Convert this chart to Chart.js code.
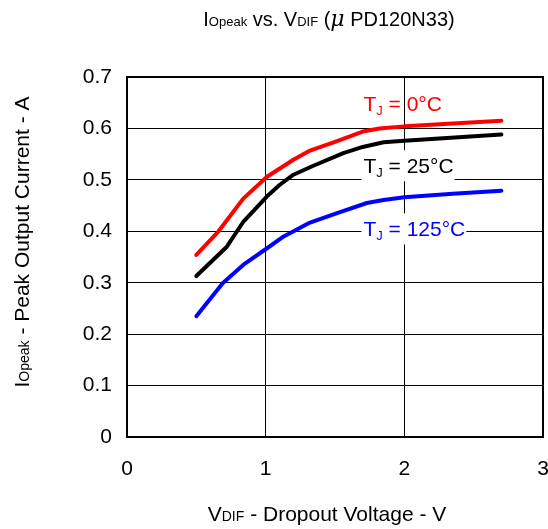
<!DOCTYPE html>
<html lang="en">
<head>
<meta charset="UTF-8">
<title>IOpeak vs. VDIF</title>
<script src="https://cdn.jsdelivr.net/npm/chart.js"></script>
<style>
    html, body { margin: 0; padding: 0; background: #fff; }
    #wrap { width: 548px; height: 529px; }
</style>
</head>
<body>
<div id="wrap"><canvas id="chart" width="548" height="529"></canvas></div>
<script>
    // data
    const xTicks = [0, 1, 2, 3];
    const yTicks = [0, 0.1, 0.2, 0.3, 0.4, 0.5, 0.6, 0.7];

    const vdif0 = [0.5, 0.66, 0.84, 1.01, 1.2, 1.32, 1.51, 1.70, 1.82, 2.0, 2.7];
    const iop0 = [0.354, 0.40, 0.464, 0.506, 0.539, 0.557, 0.575, 0.594, 0.600, 0.604, 0.615];

    const vdif25 = [0.5, 0.72, 0.84, 1.01, 1.10, 1.2, 1.34, 1.56, 1.70, 1.85, 2.0, 2.7];
    const iop25 = [0.313, 0.37, 0.419, 0.468, 0.49, 0.51, 0.527, 0.552, 0.564, 0.573, 0.576, 0.588];

    const vdif125 = [0.5, 0.69, 0.84, 1.01, 1.13, 1.32, 1.51, 1.73, 1.85, 2.0, 2.35, 2.7];
    const iop125 = [0.235, 0.299, 0.335, 0.367, 0.39, 0.417, 0.435, 0.455, 0.461, 0.466, 0.473, 0.479];

    const seriesLabels = ['0°C', '25°C', '125°C'];
    const seriesColors = ['#ff0000', '#000000', '#0000ff'];
    // where the curve names sit (data coords, left end / baseline)
    const labelX = [1.705, 1.705, 1.705];
    const labelY = [0.634, 0.513, 0.390];

    const FONT = 'Arial, "Liberation Sans", sans-serif';

    function pts(xs, ys) {
        return xs.map((x, i) => ({ x: x, y: ys[i] }));
    }

    function richWidth(ctx, parts) {
        let w = 0;
        parts.forEach(p => {
            ctx.font = (p[3] || '') + p[1] + 'px ' + (p[4] || FONT);
            w += ctx.measureText(p[0]).width;
        });
        return w;
    }

    // draws [text, size, dy, style, family] pieces one after the other
    function drawRich(ctx, parts, x, y, align) {
        const total = richWidth(ctx, parts);
        let cx = align === 'center' ? x - total / 2 : x;
        ctx.textAlign = 'left';
        ctx.textBaseline = 'alphabetic';
        parts.forEach(p => {
            ctx.font = (p[3] || '') + p[1] + 'px ' + (p[4] || FONT);
            ctx.fillText(p[0], cx, y + (p[2] || 0));
            cx += ctx.measureText(p[0]).width;
        });
        return total;
    }

    const decor = {
        id: 'decor',
        afterDatasetsDraw(chart) {
            const ctx = chart.ctx;
            const a = chart.chartArea;
            const xs = chart.scales.x, ys = chart.scales.y;
            ctx.save();

            // frame
            ctx.strokeStyle = '#000';
            ctx.lineWidth = 2;
            ctx.strokeRect(a.left, a.top, a.right - a.left, a.bottom - a.top);

            // curve names
            seriesLabels.forEach((t, i) => {
                const px = xs.getPixelForValue(labelX[i]);
                const py = ys.getPixelForValue(labelY[i]);
                const parts = [['T', 21, 0], ['J', 13, 4], [' = ' + t, 21, 0]];
                const w = richWidth(ctx, parts);
                if (i > 0) {
                    ctx.fillStyle = '#fff';
                    ctx.fillRect(px - 2, py - 23, w + 3, 31);
                }
                ctx.fillStyle = seriesColors[i];
                drawRich(ctx, parts, px, py, 'left');
            });

            // title
            ctx.fillStyle = '#000';
            drawRich(ctx, [
                ['I', 20, 0], ['Opeak', 13, 0], [' vs. V', 20, 0], ['DIF', 13, 0],
                [' (', 20, 0], ['μ', 22, 0, 'italic ', '"DejaVu Serif", serif'], [' PD120N33)', 20, 0]
            ], 329, 26, 'center');

            // x axis title
            drawRich(ctx, [['V', 21, 0], ['DIF', 14, 0], [' - Dropout Voltage - V', 21, 0]], 327, 521, 'center');

            // y axis title (rotated)
            ctx.translate(29, 242);
            ctx.rotate(-Math.PI / 2);
            drawRich(ctx, [['I', 21, 0], ['Opeak', 14, 0], [' - Peak Output Current - A', 21, 0]], 0, 0, 'center');

            ctx.restore();
        }
    };

    new Chart(document.getElementById('chart'), {
        type: 'line',
        data: {
            datasets: [
                { data: pts(vdif0, iop0), borderColor: seriesColors[0] },
                { data: pts(vdif25, iop25), borderColor: seriesColors[1] },
                { data: pts(vdif125, iop125), borderColor: seriesColors[2] }
            ]
        },
        options: {
            responsive: false,
            animation: false,
            layout: { padding: { top: 77, right: 5, left: 0, bottom: 0 } },
            elements: {
                line: { borderWidth: 4, tension: 0, borderCapStyle: 'round', borderJoinStyle: 'round', fill: false },
                point: { radius: 0 }
            },
            plugins: { legend: { display: false }, tooltip: { enabled: false } },
            scales: {
                x: {
                    type: 'linear', min: 0, max: 3,
                    afterBuildTicks: s => { s.ticks = xTicks.map(v => ({ value: v })); },
                    afterFit: s => { s.height = 529 - 437; s.paddingLeft = 0; s.paddingRight = 0; },
                    grid: { color: '#000', lineWidth: 1, drawTicks: false },
                    border: { display: false },
                    ticks: { padding: 20, color: '#000', font: { family: FONT, size: 21 }, maxRotation: 0 }
                },
                y: {
                    type: 'linear', min: 0, max: 0.7,
                    afterBuildTicks: s => { s.ticks = yTicks.map(v => ({ value: v })); },
                    afterFit: s => { s.width = 127; s.paddingTop = 0; s.paddingBottom = 0; },
                    grid: { color: '#000', lineWidth: 1, drawTicks: false },
                    border: { display: false },
                    ticks: { padding: 15, color: '#000', font: { family: FONT, size: 21 },
                        callback: v => v === 0 ? '0' : v.toFixed(1) }
                }
            }
        },
        plugins: [decor]
    });
</script>
</body>
</html>
